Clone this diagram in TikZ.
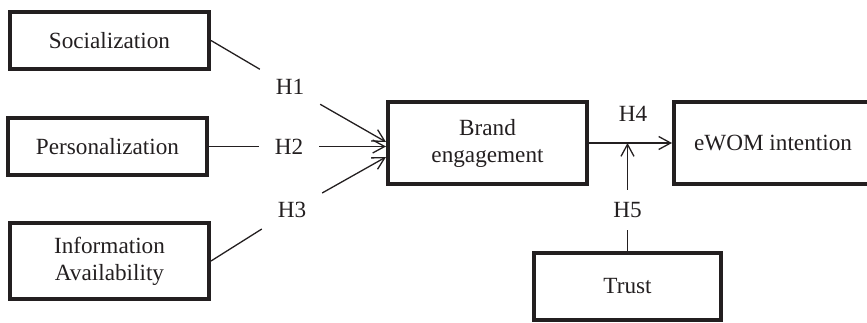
\documentclass[tikz,border=0pt]{standalone}
\usepackage{fontspec}
\setmainfont{Liberation Serif}
\usetikzlibrary{arrows.meta}
\definecolor{ink}{RGB}{35,31,32}
\begin{document}
\begin{tikzpicture}[x=1pt,y=-1pt,
  box/.style={draw=ink, line width=3.6pt, inner sep=0pt, align=center, text=ink,
    font=\fontsize{23.2}{27}\selectfont},
  hyp/.style={inner sep=0pt, minimum width=60pt, minimum height=40pt, text=ink,
    font=\fontsize{23.2}{27}\selectfont},
  htext/.style={inner sep=0pt, text=ink, font=\fontsize{23.2}{27}\selectfont},
  link/.style={draw=ink, line width=1.3pt},
  arr/.style={link, -{Straight Barb[length=12pt,width=13pt]}}]
\useasboundingbox (0,0) rectangle (867,323);
% boxes
\node[box, minimum width=199.4pt, minimum height=57.4pt] (soc) at (109.5,40.5) {Socialization};
\node[box, minimum width=199.4pt, minimum height=57.4pt] (pers) at (107.5,146.5) {Personalization};
\node[box, minimum width=199.4pt, minimum height=76.4pt] (info) at (109.5,261) {Information\\Availability};
\node[box, minimum width=199.4pt, minimum height=82.4pt] (be) at (487.5,143) {Brand\\engagement};
\node[box, minimum width=198.4pt, minimum height=82.4pt] (ewom) at (773,143) {eWOM intention};
\node[box, minimum width=187.4pt, minimum height=67.4pt] (trust) at (627.5,286.5) {Trust};
% hypothesis labels
\node[hyp] (h1) at (290,87) {H1};
\node[hyp] (h2) at (289,146.5) {H2};
\node[hyp] (h3) at (292,210) {H3};
\node[htext] (h4) at (633,114) {H4};
\node[hyp] (h5) at (627.5,210) {H5};
% arrow targets
\coordinate (t1) at ([yshift=1pt]be.west);
\coordinate (t2) at (be.west |- pers.east);
\coordinate (t3) at ([yshift=-14pt]be.west);
\coordinate (t5) at (h5 |- be.east);
% connectors
\draw[link] (soc.east) -- (h1);
\draw[arr] (h1) -- (t1);
\draw[link] (pers.east) -- (h2);
\draw[arr] (h2) -- (t2);
\draw[link] (info.east) -- (h3);
\draw[arr] (h3) -- (t3);
\draw[arr] (be.east) -- (ewom.west);
\draw[link] (trust.north) -- (h5);
\draw[arr] (h5) -- (t5);
\end{tikzpicture}
\end{document}
